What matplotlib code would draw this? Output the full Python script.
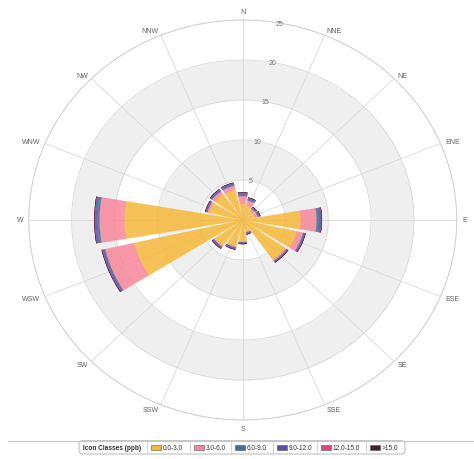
import numpy as np
import matplotlib
matplotlib.use('Agg')
import matplotlib.pyplot as plt
from matplotlib.patches import FancyBboxPatch, Rectangle
from matplotlib.lines import Line2D

directions = ['N', 'NNE', 'NE', 'ENE', 'E', 'ESE', 'SE', 'SSE',
              'S', 'SSW', 'SW', 'WSW', 'W', 'WNW', 'NW', 'NNW']
class_labels = ['0.0-3.0', '3.0-6.0', '6.0-9.0', '9.0-12.0', '12.0-15.0', '>15.0']
legend_title = 'Icon Classes (ppb)'
class_colors = ['#f5b738', '#f7869a', '#3f6f9c', '#5b4f9e', '#e2447c', '#4b1f33']

# frequencies (%) per class, per direction (N .. NNW)
c_0_3 = [2.1, 1.9, 1.4, 1.5, 6.8, 6.5, 6.1, 1.5, 2.7, 3.4, 4.0, 13.0, 13.85, 4.0, 4.0, 3.9]
c_3_6 = [0.9, 0.6, 0.35, 0.3, 1.85, 0.75, 0.2, 0.15, 0.1, 0.15, 0.15, 3.5, 2.9, 0.25, 0.4, 0.5]
c_6_9 = [0.2, 0.15, 0.1, 0.1, 0.3, 0.1, 0.05, 0.05, 0.05, 0.05, 0.05, 0.15, 0.3, 0.1, 0.1, 0.15]
c_9_12 = [0.2, 0.2, 0.15, 0.2, 0.25, 0.15, 0.15, 0.15, 0.15, 0.2, 0.2, 0.2, 0.25, 0.15, 0.2, 0.2]
c_12_15 = [0.03, 0.02, 0.0, 0.0, 0.03, 0.02, 0.0, 0.0, 0.0, 0.0, 0.0, 0.03, 0.03, 0.0, 0.0, 0.02]
c_gt15 = [0.02, 0.0, 0.0, 0.0, 0.02, 0.0, 0.0, 0.0, 0.0, 0.0, 0.0, 0.02, 0.02, 0.0, 0.0, 0.0]
series = [c_0_3, c_3_6, c_6_9, c_9_12, c_12_15, c_gt15]

r_ticks = [5, 10, 15, 20, 25]

fig = plt.figure(figsize=(4.74, 4.60), dpi=100)
ax = fig.add_axes([0.0606, 0.0848, 0.903, 0.8696], projection='polar')
ax.set_aspect('auto')
ax.set_theta_zero_location('N')
ax.set_theta_direction(-1)
ax.set_rlim(0, 25)

theta = np.deg2rad(np.arange(len(directions)) * 360.0 / len(directions))
width = np.deg2rad(360.0 / len(directions)) * 0.86

# alternating plot bands
tt = np.linspace(0, 2 * np.pi, 400)
ax.fill_between(tt, 5, 10, color='#efefef', zorder=0, lw=0)
ax.fill_between(tt, 15, 20, color='#efefef', zorder=0, lw=0)

# grid
ax.set_xticks(theta)
ax.set_xticklabels([])
ax.set_yticks(r_ticks)
ax.set_yticklabels([])
ax.grid(True, color='#d9d9d9', lw=0.6)
ax.set_axisbelow(True)
ax.spines['polar'].set_color('#d0d0d0')
ax.spines['polar'].set_linewidth(0.7)
ax.tick_params(length=0)

bottom = np.zeros(len(directions))
for vals, col in zip(series, class_colors):
    v = np.array(vals)
    ax.bar(theta, v, width=width, bottom=bottom, color=col, alpha=0.85,
           edgecolor=col, linewidth=0.25, zorder=3)
    bottom += v

# direction labels
for th, lab in zip(theta, directions):
    s = np.sin(th)
    c = np.cos(th)
    ha = 'left' if s > 0.1 else ('right' if s < -0.1 else 'center')
    va = 'center'
    if abs(s) <= 0.1:
        va = 'bottom' if c > 0 else 'top'
    ax.text(th, 25.6, lab, ha=ha, va=va, fontsize=5, color='#606060',
            family='Liberation Sans', clip_on=False)

# radial labels
for r in r_ticks:
    ax.text(np.deg2rad(10), r, str(r), ha='center', va='center', fontsize=5,
            color='#707070', family='Liberation Sans', zorder=5)

# legend
W, H = 474.0, 460.0
def fx(px):
    return px / W
def fy(py):
    return 1 - py / H

fig.add_artist(Line2D([fx(8), fx(474)], [fy(441.7), fy(441.7)], color='#c8c8c8', lw=0.8))
box = FancyBboxPatch((fx(79), fy(455)), fx(405) - fx(79), fy(441.7) - fy(455),
                     boxstyle='round,pad=0,rounding_size=0.008', facecolor='white',
                     edgecolor='#b8b8b8', lw=0.7, transform=fig.transFigure)
fig.add_artist(box)
fig.text(fx(83), fy(448.3), legend_title, ha='left', va='center', fontsize=4.7,
         fontweight='bold', color='#333333', family='Liberation Sans')
seps = [146.7, 190, 231, 272.7, 317.3, 366]
for sx, lab, col in zip(seps, class_labels, class_colors):
    fig.add_artist(Line2D([fx(sx), fx(sx)], [fy(443), fy(454)], color='#d0d0d0', lw=0.6))
    fig.add_artist(Rectangle((fx(sx + 4), fy(450.8)), fx(10), 4.8 / H, facecolor=col,
                             edgecolor='#555555', lw=0.4, transform=fig.transFigure))
    fig.text(fx(sx + 15.7), fy(448.3), lab, ha='left', va='center', fontsize=4.7,
             color='#333333', family='Liberation Sans')

fig.savefig('out.png', dpi=100, facecolor='white')
